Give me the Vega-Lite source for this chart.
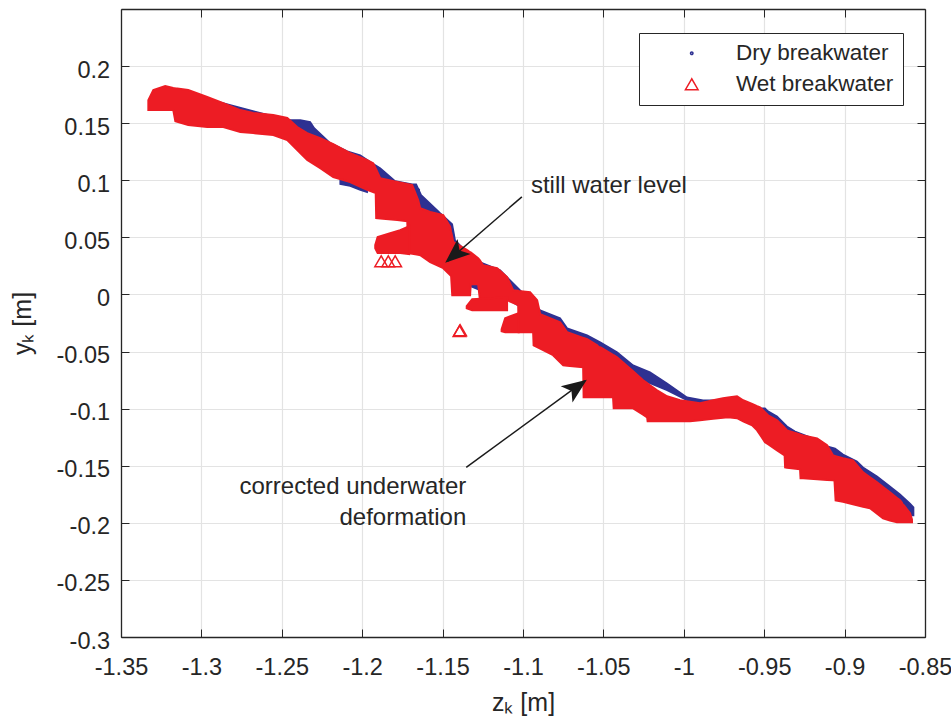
{
  "$schema": "https://vega.github.io/schema/vega-lite/v6.json",
  "width": 804,
  "height": 628,
  "autosize": {"type": "none"},
  "padding": {"left": 121, "top": 9, "right": 26, "bottom": 88},
  "background": "white",
  "config": {
    "font": "Liberation Sans",
    "view": {"stroke": null},
    "axis": {
      "domainColor": "#262626",
      "domainWidth": 1.3,
      "tickColor": "#262626",
      "tickWidth": 1,
      "labelColor": "#262626",
      "labelFont": "Liberation Sans",
      "labelFontSize": 23.5,
      "titleColor": "#262626",
      "titleFont": "Liberation Sans",
      "titleFontWeight": "normal",
      "gridColor": "#e3e3e3",
      "gridWidth": 1.2,
      "labelFlush": false,
      "labelOverlap": false,
      "labelBound": false
    }
  },
  "datasets": {
    "red": [
      {"p":"M","z":-1.3330,"y":0.1702,"y2":0.1615},
      {"p":"M","z":-1.3299,"y":0.1790,"y2":0.1615},
      {"p":"M","z":-1.3225,"y":0.1825,"y2":0.1615},
      {"p":"M","z":-1.3175,"y":0.1808,"y2":0.1615},
      {"p":"M","z":-1.3162,"y":0.1805,"y2":0.1518},
      {"p":"M","z":-1.3082,"y":0.1790,"y2":0.1483},
      {"p":"M","z":-1.2964,"y":0.1729,"y2":0.1466},
      {"p":"M","z":-1.2864,"y":0.1676,"y2":0.1466},
      {"p":"M","z":-1.2758,"y":0.1615,"y2":0.1422},
      {"p":"M","z":-1.2678,"y":0.1589,"y2":0.1413},
      {"p":"M","z":-1.2553,"y":0.1571,"y2":0.1396},
      {"p":"M","z":-1.2466,"y":0.1545,"y2":0.1352},
      {"p":"M","z":-1.2404,"y":0.1466,"y2":0.1264},
      {"p":"M","z":-1.2342,"y":0.1413,"y2":0.1177},
      {"p":"M","z":-1.2261,"y":0.1369,"y2":0.1106},
      {"p":"M","z":-1.2180,"y":0.1317,"y2":0.1028},
      {"p":"M","z":-1.2075,"y":0.1238,"y2":0.0984},
      {"p":"M","z":-1.1994,"y":0.1191,"y2":0.0931},
      {"p":"M","z":-1.1969,"y":0.1177,"y2":0.0917},
      {"p":"M","z":-1.1932,"y":0.1150,"y2":0.0896},
      {"p":"M","z":-1.1916,"y":0.1103,"y2":0.0887},
      {"p":"M","z":-1.1913,"y":0.1094,"y2":0.0668},
      {"p":"M","z":-1.1888,"y":0.1019,"y2":0.0665},
      {"p":"M","z":-1.1782,"y":0.0986,"y2":0.0651},
      {"p":"M","z":-1.1720,"y":0.0967,"y2":0.0642},
      {"p":"M","z":-1.1711,"y":0.0965,"y2":0.0362},
      {"p":"M","z":-1.1689,"y":0.0957,"y2":0.0356},
      {"p":"M","z":-1.1652,"y":0.0826,"y2":0.0347},
      {"p":"M","z":-1.1639,"y":0.0756,"y2":0.0344},
      {"p":"M","z":-1.1577,"y":0.0723,"y2":0.0283},
      {"p":"M","z":-1.1496,"y":0.0695,"y2":0.0230},
      {"p":"M","z":-1.1453,"y":0.0592,"y2":0.0169},
      {"p":"M","z":-1.1447,"y":0.0548,"y2":0.0160},
      {"p":"M","z":-1.1440,"y":0.0504,"y2":-0.0007},
      {"p":"M","z":-1.1434,"y":0.0461,"y2":-0.0007},
      {"p":"M","z":-1.1347,"y":0.0388,"y2":-0.0007},
      {"p":"M","z":-1.1329,"y":0.0370,"y2":-0.0007},
      {"p":"M","z":-1.1325,"y":0.0368,"y2":0.0090},
      {"p":"M","z":-1.1279,"y":0.0318,"y2":0.0090},
      {"p":"M","z":-1.1269,"y":0.0300,"y2":-0.0033},
      {"p":"M","z":-1.1248,"y":0.0256,"y2":-0.0034},
      {"p":"M","z":-1.1161,"y":0.0230,"y2":-0.0047},
      {"p":"M","z":-1.1099,"y":0.0151,"y2":-0.0050},
      {"p":"M","z":-1.1061,"y":0.0037,"y2":-0.0074},
      {"p":"M","z":-1.1030,"y":0.0032,"y2":-0.0094},
      {"p":"M","z":-1.1027,"y":0.0031,"y2":-0.0331},
      {"p":"M","z":-1.0956,"y":0.0020,"y2":-0.0331},
      {"p":"M","z":-1.0937,"y":-0.0010,"y2":-0.0331},
      {"p":"M","z":-1.0934,"y":-0.0015,"y2":-0.0445},
      {"p":"M","z":-1.0912,"y":-0.0050,"y2":-0.0461},
      {"p":"M","z":-1.0893,"y":-0.0173,"y2":-0.0474},
      {"p":"M","z":-1.0813,"y":-0.0219,"y2":-0.0532},
      {"p":"M","z":-1.0769,"y":-0.0243,"y2":-0.0594},
      {"p":"M","z":-1.0750,"y":-0.0281,"y2":-0.0620},
      {"p":"M","z":-1.0725,"y":-0.0331,"y2":-0.0624},
      {"p":"M","z":-1.0626,"y":-0.0380,"y2":-0.0638},
      {"p":"M","z":-1.0623,"y":-0.0382,"y2":-0.0901},
      {"p":"M","z":-1.0601,"y":-0.0392,"y2":-0.0901},
      {"p":"M","z":-1.0520,"y":-0.0462,"y2":-0.0901},
      {"p":"M","z":-1.0440,"y":-0.0529,"y2":-0.0901},
      {"p":"M","z":-1.0436,"y":-0.0532,"y2":-0.0997},
      {"p":"M","z":-1.0415,"y":-0.0550,"y2":-0.0997},
      {"p":"M","z":-1.0315,"y":-0.0673,"y2":-0.0997},
      {"p":"M","z":-1.0253,"y":-0.0752,"y2":-0.1053},
      {"p":"M","z":-1.0228,"y":-0.0777,"y2":-0.1076},
      {"p":"M","z":-1.0225,"y":-0.0780,"y2":-0.1111},
      {"p":"M","z":-1.0166,"y":-0.0839,"y2":-0.1111},
      {"p":"M","z":-1.0104,"y":-0.0892,"y2":-0.1111},
      {"p":"M","z":-1.0023,"y":-0.0927,"y2":-0.1111},
      {"p":"M","z":-0.9961,"y":-0.0940,"y2":-0.1111},
      {"p":"M","z":-0.9899,"y":-0.0953,"y2":-0.1101},
      {"p":"M","z":-0.9818,"y":-0.0927,"y2":-0.1089},
      {"p":"M","z":-0.9787,"y":-0.0918,"y2":-0.1085},
      {"p":"M","z":-0.9756,"y":-0.0909,"y2":-0.1080},
      {"p":"M","z":-0.9725,"y":-0.0903,"y2":-0.1076},
      {"p":"M","z":-0.9669,"y":-0.0892,"y2":-0.1084},
      {"p":"M","z":-0.9631,"y":-0.0927,"y2":-0.1111},
      {"p":"M","z":-0.9575,"y":-0.0959,"y2":-0.1146},
      {"p":"M","z":-0.9544,"y":-0.0978,"y2":-0.1190},
      {"p":"M","z":-0.9526,"y":-0.0988,"y2":-0.1229},
      {"p":"M","z":-0.9495,"y":-0.1032,"y2":-0.1295},
      {"p":"M","z":-0.9476,"y":-0.1058,"y2":-0.1312},
      {"p":"M","z":-0.9420,"y":-0.1102,"y2":-0.1365},
      {"p":"M","z":-0.9373,"y":-0.1168,"y2":-0.1409},
      {"p":"M","z":-0.9370,"y":-0.1172,"y2":-0.1514},
      {"p":"M","z":-0.9358,"y":-0.1190,"y2":-0.1517},
      {"p":"M","z":-0.9277,"y":-0.1226,"y2":-0.1532},
      {"p":"M","z":-0.9274,"y":-0.1228,"y2":-0.1610},
      {"p":"M","z":-0.9258,"y":-0.1234,"y2":-0.1610},
      {"p":"M","z":-0.9171,"y":-0.1260,"y2":-0.1618},
      {"p":"M","z":-0.9109,"y":-0.1321,"y2":-0.1624},
      {"p":"M","z":-0.9072,"y":-0.1409,"y2":-0.1628},
      {"p":"M","z":-0.9063,"y":-0.1413,"y2":-0.1632},
      {"p":"M","z":-0.9056,"y":-0.1416,"y2":-0.1803},
      {"p":"M","z":-0.9010,"y":-0.1435,"y2":-0.1816},
      {"p":"M","z":-0.8948,"y":-0.1453,"y2":-0.1837},
      {"p":"M","z":-0.8885,"y":-0.1558,"y2":-0.1859},
      {"p":"M","z":-0.8842,"y":-0.1602,"y2":-0.1873},
      {"p":"M","z":-0.8798,"y":-0.1645,"y2":-0.1921},
      {"p":"M","z":-0.8761,"y":-0.1686,"y2":-0.1961},
      {"p":"M","z":-0.8718,"y":-0.1733,"y2":-0.1979},
      {"p":"M","z":-0.8674,"y":-0.1782,"y2":-0.1996},
      {"p":"M","z":-0.8655,"y":-0.1803,"y2":-0.1996},
      {"p":"M","z":-0.8593,"y":-0.1917,"y2":-0.1996},
      {"p":"M","z":-0.8581,"y":-0.1970,"y2":-0.1996},
      {"p":"L1","z":-1.1919,"y":0.0432,"y2":0.0405},
      {"p":"L1","z":-1.1904,"y":0.0502,"y2":0.0362},
      {"p":"L1","z":-1.1826,"y":0.0537,"y2":0.0362},
      {"p":"L1","z":-1.1764,"y":0.0563,"y2":0.0362},
      {"p":"L1","z":-1.1708,"y":0.0598,"y2":0.0353},
      {"p":"L2","z":-1.1350,"y":-0.0103,"y2":-0.0121},
      {"p":"L2","z":-1.1316,"y":-0.0042,"y2":-0.0138},
      {"p":"L2","z":-1.1099,"y":-0.0024,"y2":-0.0138},
      {"p":"L3","z":-1.1133,"y":-0.0305,"y2":-0.0322},
      {"p":"L3","z":-1.1111,"y":-0.0208,"y2":-0.0331},
      {"p":"L3","z":-1.1027,"y":-0.0164,"y2":-0.0331}
    ],
    "blue": [
      {"p":"B1","z":-1.3318,"y":0.1676,"y2":0.1632},
      {"p":"B1","z":-1.3007,"y":0.1729,"y2":0.1659},
      {"p":"B1","z":-1.2510,"y":0.1545,"y2":0.1475},
      {"p":"B1","z":-1.2448,"y":0.1527,"y2":0.1440},
      {"p":"B1","z":-1.2385,"y":0.1527,"y2":0.1422},
      {"p":"B1","z":-1.2323,"y":0.1510,"y2":0.1387},
      {"p":"B1","z":-1.2298,"y":0.1457,"y2":0.1352},
      {"p":"B1","z":-1.2199,"y":0.1326,"y2":0.1247},
      {"p":"B1","z":-1.2093,"y":0.1255,"y2":0.1177},
      {"p":"B1","z":-1.2012,"y":0.1220,"y2":0.1133},
      {"p":"B1","z":-1.1938,"y":0.1150,"y2":0.1071},
      {"p":"B1","z":-1.1888,"y":0.1106,"y2":0.1001},
      {"p":"B1","z":-1.1795,"y":0.0993,"y2":0.0914},
      {"p":"B1","z":-1.1689,"y":0.0966,"y2":0.0879},
      {"p":"B1","z":-1.1664,"y":0.0966,"y2":0.0826},
      {"p":"B1","z":-1.1633,"y":0.0870,"y2":0.0721},
      {"p":"B1","z":-1.1515,"y":0.0712,"y2":0.0616},
      {"p":"B1","z":-1.1440,"y":0.0616,"y2":0.0475},
      {"p":"B1","z":-1.1422,"y":0.0475,"y2":0.0388},
      {"p":"B1","z":-1.1329,"y":0.0344,"y2":0.0072},
      {"p":"B1","z":-1.1266,"y":0.0283,"y2":0.0037},
      {"p":"B1","z":-1.1142,"y":0.0213,"y2":-0.0007},
      {"p":"B1","z":-1.0893,"y":-0.0138,"y2":-0.0208},
      {"p":"B1","z":-1.0769,"y":-0.0208,"y2":-0.0278},
      {"p":"B1","z":-1.0725,"y":-0.0296,"y2":-0.0366},
      {"p":"B1","z":-1.0601,"y":-0.0357,"y2":-0.0427},
      {"p":"B1","z":-1.0520,"y":-0.0418,"y2":-0.0489},
      {"p":"B1","z":-1.0415,"y":-0.0506,"y2":-0.0576},
      {"p":"B1","z":-1.0315,"y":-0.0620,"y2":-0.0716},
      {"p":"B1","z":-1.0210,"y":-0.0681,"y2":-0.0778},
      {"p":"B1","z":-1.0104,"y":-0.0778,"y2":-0.0839},
      {"p":"B1","z":-0.9980,"y":-0.0901,"y2":-0.0927},
      {"p":"B1","z":-0.9880,"y":-0.0927,"y2":-0.0962},
      {"p":"B1","z":-0.9774,"y":-0.0927,"y2":-0.0979},
      {"p":"B1","z":-0.9650,"y":-0.0927,"y2":-0.0979},
      {"p":"B1","z":-0.9526,"y":-0.0997,"y2":-0.1058},
      {"p":"B1","z":-0.9495,"y":-0.0997,"y2":-0.1067},
      {"p":"B1","z":-0.9476,"y":-0.1023,"y2":-0.1102},
      {"p":"B1","z":-0.9420,"y":-0.1067,"y2":-0.1146},
      {"p":"B1","z":-0.9358,"y":-0.1155,"y2":-0.1225},
      {"p":"B1","z":-0.9308,"y":-0.1199,"y2":-0.1269},
      {"p":"B1","z":-0.9215,"y":-0.1251,"y2":-0.1312},
      {"p":"B1","z":-0.9109,"y":-0.1330,"y2":-0.1383},
      {"p":"B1","z":-0.9059,"y":-0.1348,"y2":-0.1418},
      {"p":"B1","z":-0.9010,"y":-0.1400,"y2":-0.1470},
      {"p":"B1","z":-0.8923,"y":-0.1461,"y2":-0.1558},
      {"p":"B1","z":-0.8885,"y":-0.1514,"y2":-0.1610},
      {"p":"B1","z":-0.8798,"y":-0.1593,"y2":-0.1698},
      {"p":"B1","z":-0.8718,"y":-0.1681,"y2":-0.1786},
      {"p":"B1","z":-0.8655,"y":-0.1751,"y2":-0.1856},
      {"p":"B1","z":-0.8593,"y":-0.1830,"y2":-0.1935},
      {"p":"B1","z":-0.8571,"y":-0.1865,"y2":-0.1935},
      {"p":"B2","z":-1.2137,"y":0.1010,"y2":0.0966},
      {"p":"B2","z":-1.2075,"y":0.0993,"y2":0.0949},
      {"p":"B2","z":-1.2012,"y":0.0957,"y2":0.0914},
      {"p":"B2","z":-1.1969,"y":0.0931,"y2":0.0896}
    ],
    "pts": [
      {"s":"Dry breakwater","z":-1.2385,"y":0.1510},
      {"s":"Dry breakwater","z":-1.1652,"y":0.0914},
      {"s":"Dry breakwater","z":-1.0520,"y":-0.0436},
      {"s":"Dry breakwater","z":-0.8624,"y":-0.1821},
      {"s":"Wet breakwater","z":-1.1882,"y":0.0291},
      {"s":"Wet breakwater","z":-1.1838,"y":0.0291},
      {"s":"Wet breakwater","z":-1.1795,"y":0.0291},
      {"s":"Wet breakwater","z":-1.1391,"y":-0.0313},
      {"s":"Wet breakwater","z":-1.1395,"y":-0.0320}
    ]
  },
  "encoding": {
    "x": {
      "field": "z",
      "type": "quantitative",
      "scale": {"domain": [-1.35, -0.85], "nice": false, "zero": false},
      "axis": {
        "orient": "bottom",
        "values": [-1.35, -1.3, -1.25, -1.2, -1.15, -1.1, -1.05, -1, -0.95, -0.9, -0.85],
        "labelExpr": "replace(format(datum.value, '.2~f'), '\u2212', '-')",
        "tickSize": -8,
        "labelPadding": 45,
        "labelBaseline": "alphabetic",
        "title": "zₖ [m]",
        "titleFontSize": 25,
        "titleBaseline": "alphabetic",
        "titleY": 73,
        "grid": true
      }
    },
    "y": {
      "field": "y",
      "type": "quantitative",
      "scale": {"domain": [-0.3, 0.25], "nice": false, "zero": false},
      "axis": {
        "orient": "left",
        "values": [-0.3, -0.25, -0.2, -0.15, -0.1, -0.05, 0, 0.05, 0.1, 0.15, 0.2],
        "labelExpr": "replace(format(datum.value, '.2~f'), '\u2212', '-')",
        "tickSize": -8,
        "labelPadding": 19.4,
        "labelBaseline": "alphabetic",
        "labelOffset": 11,
        "title": "yₖ [m]",
        "titleFontSize": 25,
        "titleBaseline": "alphabetic",
        "titleAlign": "center",
        "titleAngle": -90,
        "titleX": -91,
        "titleY": 314,
        "grid": true
      }
    }
  },
  "layer": [
    {
      "layer": [
        {
          "data": {"name": "blue"},
          "mark": {"type": "area", "color": "#2e3192", "stroke": "#2e3192", "strokeWidth": 1.5, "opacity": 1},
          "encoding": {"y2": {"field": "y2"}, "detail": {"field": "p", "type": "nominal"}}
        },
        {
          "data": {"name": "red"},
          "mark": {"type": "area", "color": "#ed1c24", "stroke": "#ed1c24", "strokeWidth": 2, "strokeJoin": "miter", "opacity": 1},
          "encoding": {"y2": {"field": "y2"}, "detail": {"field": "p", "type": "nominal"}}
        },
        {
          "data": {"name": "pts"},
          "mark": {"type": "point", "filled": false, "strokeWidth": 1.5, "opacity": 1},
          "encoding": {
            "color": {
              "field": "s",
              "type": "nominal",
              "title": null,
              "scale": {"domain": ["Dry breakwater", "Wet breakwater"], "range": ["#2e3192", "#ed1c24"]},
              "legend": {
                "orient": "none",
                "legendX": 518,
                "legendY": 24,
                "padding": 9,
                "strokeColor": "#262626",
                "fillColor": "white",
                "labelFontSize": 22.5,
                "labelColor": "#262626",
                "labelFont": "Liberation Sans",
                "symbolOffset": 32.5,
                "labelOffset": 33,
                "rowPadding": 8,
                "symbolStrokeWidth": 1.5,
                "labelLimit": 400
              }
            },
            "shape": {
              "field": "s",
              "type": "nominal",
              "title": null,
              "scale": {"domain": ["Dry breakwater", "Wet breakwater"], "range": ["circle", "triangle-up"]}
            },
            "size": {
              "field": "s",
              "type": "nominal",
              "title": null,
              "scale": {"domain": ["Dry breakwater", "Wet breakwater"], "range": [6, 160]}
            }
          }
        },
        {
          "data": {"values": [
            {"z": -1.1007, "y": 0.0855, "z2": -1.1470, "y2": 0.0290},
            {"z": -1.1353, "y": -0.1514, "z2": -1.0615, "y2": -0.0755}
          ]},
          "mark": {"type": "rule", "color": "#1a1a1a", "strokeWidth": 1.5},
          "encoding": {"x2": {"field": "z2"}, "y2": {"field": "y2"}}
        },
        {
          "data": {"values": [{"z": -1.1484, "y": 0.0277}]},
          "mark": {"type": "point", "shape": "M0,0L-2.5,-1L-1.9,0L-2.5,1Z", "filled": true, "color": "#1a1a1a", "size": 400, "angle": 139.3, "opacity": 1, "strokeWidth": 0}
        },
        {
          "data": {"values": [{"z": -1.0603, "y": -0.0747}]},
          "mark": {"type": "point", "shape": "M0,0L-2.5,-1L-1.9,0L-2.5,1Z", "filled": true, "color": "#1a1a1a", "size": 400, "angle": 324, "opacity": 1, "strokeWidth": 0}
        },
        {
          "data": {"values": [{"z": -1.0951, "y": 0.0890, "t": "still water level"}]},
          "mark": {"type": "text", "align": "left", "baseline": "alphabetic", "fontSize": 24, "color": "#262626", "font": "Liberation Sans"},
          "encoding": {"text": {"field": "t"}}
        },
        {
          "data": {"values": [
            {"z": -1.1353, "y": -0.1745, "t": "corrected underwater"},
            {"z": -1.1353, "y": -0.2016, "t": "deformation"}
          ]},
          "mark": {"type": "text", "align": "right", "baseline": "alphabetic", "fontSize": 24, "color": "#262626", "font": "Liberation Sans"},
          "encoding": {"text": {"field": "t"}}
        }
      ]
    },
    {
      "data": {"values": [{"z": -1.1, "y": 0}]},
      "mark": {"type": "point", "opacity": 0},
      "encoding": {
        "x": {
          "field": "z",
          "type": "quantitative",
          "axis": {
            "orient": "top",
            "values": [-1.35, -1.3, -1.25, -1.2, -1.15, -1.1, -1.05, -1, -0.95, -0.9, -0.85],
            "labels": false,
            "tickSize": -8,
            "grid": false,
            "title": null
          }
        },
        "y": {
          "field": "y",
          "type": "quantitative",
          "axis": {
            "orient": "right",
            "values": [-0.3, -0.25, -0.2, -0.15, -0.1, -0.05, 0, 0.05, 0.1, 0.15, 0.2],
            "labels": false,
            "tickSize": -8,
            "grid": false,
            "title": null
          }
        }
      }
    }
  ],
  "resolve": {"axis": {"x": "independent", "y": "independent"}}
}
